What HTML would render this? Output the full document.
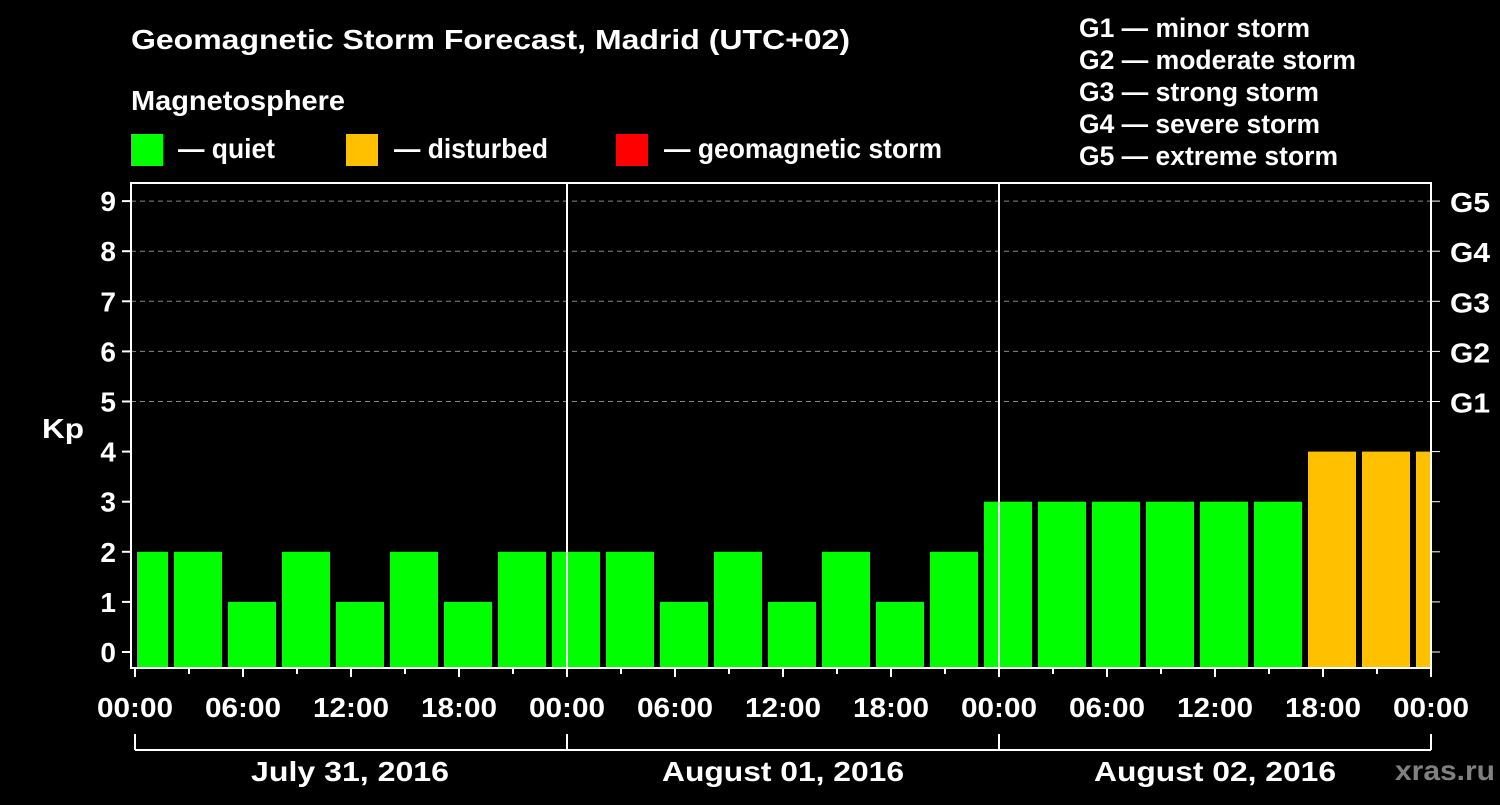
<!DOCTYPE html>
<html><head><meta charset="utf-8"><style>
body{margin:0;background:#000;width:1500px;height:800px;overflow:hidden}
svg text{font-family:"Liberation Sans",sans-serif;font-weight:bold;fill:#fff}
</style></head><body>
<svg id="c" width="1500" height="800">
<text x="131" y="49" font-size="28" textLength="719" lengthAdjust="spacingAndGlyphs">Geomagnetic Storm Forecast, Madrid (UTC+02)</text>
<text x="131" y="110" font-size="28" textLength="214" lengthAdjust="spacingAndGlyphs">Magnetosphere</text>
<g><rect x="131" y="134" width="32" height="32" fill="#00ff00"/><text x="178" y="158" font-size="28" textLength="97" lengthAdjust="spacingAndGlyphs">— quiet</text></g>
<g><rect x="346" y="134" width="32" height="32" fill="#ffc000"/><text x="394" y="158" font-size="28" textLength="154" lengthAdjust="spacingAndGlyphs">— disturbed</text></g>
<g><rect x="616" y="134" width="32" height="32" fill="#ff0000"/><text x="664" y="158" font-size="28" textLength="278" lengthAdjust="spacingAndGlyphs">— geomagnetic storm</text></g>
<g font-size="27">
<text x="1079" y="37" textLength="231" lengthAdjust="spacingAndGlyphs">G1 — minor storm</text><text x="1079" y="69" textLength="277" lengthAdjust="spacingAndGlyphs">G2 — moderate storm</text><text x="1079" y="101" textLength="240" lengthAdjust="spacingAndGlyphs">G3 — strong storm</text><text x="1079" y="133" textLength="241" lengthAdjust="spacingAndGlyphs">G4 — severe storm</text><text x="1079" y="165" textLength="259" lengthAdjust="spacingAndGlyphs">G5 — extreme storm</text></g>
<text x="42" y="438" font-size="28" textLength="42" lengthAdjust="spacingAndGlyphs">Kp</text>
<text x="1395" y="780" font-size="28" textLength="100" lengthAdjust="spacingAndGlyphs" style="fill:#808080">xras.ru</text>
<g id="plot"></g>
</svg>
<script>
const kpValues=[2,2,1,2,1,2,1,2, 2,2,1,2,1,2,1,2, 3,3,3,3,3,3, 4,4,4];
const yTicks=[0,1,2,3,4,5,6,7,8,9];
const gLabels=["G1","G2","G3","G4","G5"];
const hourLabels=["00:00","06:00","12:00","18:00","00:00","06:00","12:00","18:00","00:00","06:00","12:00","18:00","00:00"];
const dayLabels=["July 31, 2016","August 01, 2016","August 02, 2016"];
const NS="http://www.w3.org/2000/svg";
const g=document.getElementById('plot');
const L=131,R=1431,T=183,B=668,X0=135,DAY=432;
const y=v=>652-50.1*v;
const x=h=>X0+h*DAY/24;
function mk(t,a){const e=document.createElementNS(NS,t);for(const k in a)e.setAttribute(k,a[k]);g.appendChild(e);return e;}
yTicks.forEach(v=>{
  if(v>=5){const l=mk('line',{x1:L,x2:R,y1:y(v),y2:y(v),stroke:'#888','stroke-dasharray':'5,4','stroke-width':1});
  
  }
  const t=mk('line',{x1:L-9,x2:L,y1:y(v),y2:y(v),stroke:'#fff','stroke-width':2});
  
  
  const t2=mk('line',{x1:R,x2:R+9,y1:y(v),y2:y(v),stroke:'#fff','stroke-width':1});
  
  
  const tx=mk('text',{x:116,y:y(v)+10,'font-size':28,'text-anchor':'end'});tx.textContent=v;
  
  
});
gLabels.forEach((s,i)=>{const tx=mk('text',{x:1450,y:y(5+i)+11,'font-size':28,textLength:40,lengthAdjust:'spacingAndGlyphs'});tx.textContent=s;
  
  });
const cp=mk('clipPath',{id:'cl'});const cr=document.createElementNS(NS,'rect');
cr.setAttribute('x',L+6);cr.setAttribute('y',T);cr.setAttribute('width',R-L-7);cr.setAttribute('height',B-T);cp.appendChild(cr);
kpValues.forEach((v,i)=>{
  const b=mk('rect',{x:x(i*3)-15,y:y(v),width:48,height:B-y(v),fill:v>=5?'#ff0000':(v>=4?'#ffc000':'#00ff00'),'clip-path':'url(#cl)'});
  
  
});
[1,2].forEach(d=>{const l=mk('line',{x1:x(24*d),x2:x(24*d),y1:T,y2:B,stroke:'#fff','stroke-width':2});
  
  });
const fr=mk('rect',{x:L,y:T,width:R-L,height:B-T,fill:'none',stroke:'#fff','stroke-width':2});


for(let i=0;i<=24;i++){const l=mk('line',{x1:x(i*3),x2:x(i*3),y1:B,y2:B+(i%2?6:9),stroke:'#fff','stroke-width':2});
  
  }
hourLabels.forEach((s,i)=>{const tx=mk('text',{x:x(i*6),y:717,'font-size':28,'text-anchor':'middle',textLength:76,lengthAdjust:'spacingAndGlyphs'});tx.textContent=s;
  
  });
const bl=mk('line',{x1:x(0),x2:x(72),y1:750,y2:750,stroke:'#fff','stroke-width':2});


for(let d=0;d<=3;d++){const l=mk('line',{x1:x(24*d),x2:x(24*d),y1:734,y2:750,stroke:'#fff','stroke-width':2});
  
  }
dayLabels.forEach((s,d)=>{const tx=mk('text',{x:x(24*d+12)-(d===0?1:0),y:781,'font-size':28,'text-anchor':'middle',textLength:d===0?198:242,lengthAdjust:'spacingAndGlyphs'});tx.textContent=s;
  
  });
</script>
</body></html>
